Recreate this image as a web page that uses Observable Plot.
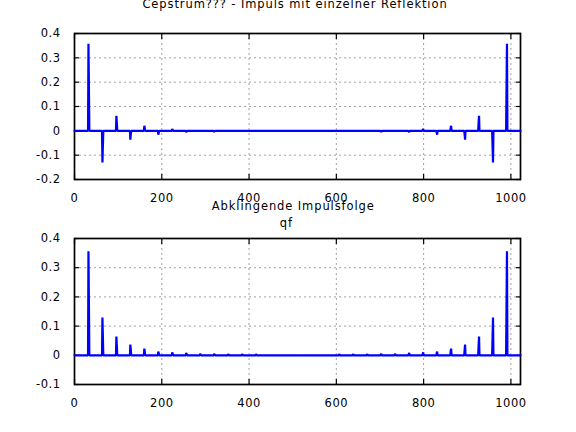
<!DOCTYPE html>
<html><head><meta charset="utf-8">
<script src="https://cdn.jsdelivr.net/npm/d3@7"></script>
<script src="https://cdn.jsdelivr.net/npm/@observablehq/plot@0.6"></script>
<style>
html,body{margin:0;padding:0;background:#fff;}
#chart{position:relative;width:576px;height:432px;overflow:hidden;}
#chart > svg{position:absolute;left:0;}
</style></head><body><div id="chart"></div>
<script>
// ---- tick labels / axes ----
const xTicks = [0, 200, 400, 600, 800, 1000];
const topYTicks = [-0.2, -0.1, 0, 0.1, 0.2, 0.3, 0.4];
const bottomYTicks = [-0.1, 0, 0.1, 0.2, 0.3, 0.4];
const sampleEnd = 1022;

// ---- titles ----
const titleTop = "Cepstrum??? - Impuls mit einzelner Reflektion";
const titleBottom = ["Abklingende Impulsfolge", "qf"];

// ---- top panel: cepstrum, impulse with single reflection ----
const topLeftLag  = [32, 64, 96, 128, 160, 192, 224, 256, 320];
const topLeftA    = [0.358, -0.130, 0.062, -0.036, 0.021, -0.016, 0.008, -0.006, -0.005];
const topLeftB    = [0.181, -0.065, 0.033, -0.015, 0.012, -0.008, 0.004, -0.003, -0.002];
const topRightLag = [991, 959, 927, 895, 863, 831, 799, 767, 703];
const topRightA   = [0.358, -0.130, 0.062, -0.036, 0.021, -0.016, 0.008, -0.006, -0.005];
const topRightB   = [0.181, -0.065, 0.033, -0.015, 0.012, -0.008, 0.004, -0.003, -0.002];

// ---- bottom panel: decaying impulse train ----
const botLeftLag  = [32, 64, 96, 128, 160, 192, 224, 256, 288, 320, 352, 384, 416];
const botLeftA    = [0.356, 0.129, 0.064, 0.037, 0.023, 0.013, 0.010, 0.008, 0.005, 0.005, 0.004, 0.004, 0.004];
const botLeftB    = [0.179, 0.064, 0.033, 0.019, 0.013, 0.007, 0.005, 0.004, 0.003, 0.003, 0.002, 0.002, 0.002];
const botRightLag = [991, 959, 927, 895, 863, 831, 799, 767, 735, 703, 671, 639, 607];
const botRightA   = [0.356, 0.129, 0.064, 0.037, 0.023, 0.013, 0.010, 0.008, 0.005, 0.005, 0.004, 0.004, 0.004];
const botRightB   = [0.179, 0.064, 0.033, 0.019, 0.013, 0.007, 0.005, 0.004, 0.003, 0.003, 0.002, 0.002, 0.002];

function buildSignal(lLag, lA, lB, rLag, rA, rB) {
  const pts = [{x: 0, y: 0}];
  lLag.forEach((n, i) => {
    pts.push({x: n - 1, y: 0}, {x: n, y: lA[i]}, {x: n + 1, y: lB[i]}, {x: n + 2, y: 0});
  });
  rLag.map((n, i) => ({n, a: rA[i], b: rB[i]}))
    .sort((p, q) => p.n - q.n)
    .forEach(({n, a, b}) => {
      pts.push({x: n - 2, y: 0}, {x: n - 1, y: b}, {x: n, y: a}, {x: n + 1, y: 0});
    });
  pts.push({x: sampleEnd, y: 0});
  return pts;
}

const fmtY = d => String(+d.toFixed(1));
const gridStyle = {stroke: "#a0a0a0", strokeOpacity: 1, strokeWidth: 1, strokeDasharray: "2,3"};

function panel(data, yTicks, height, marginTop, marginBottom) {
  return Plot.plot({
    width: 576, height, marginTop, marginBottom, marginLeft: 74, marginRight: 56,
    style: {fontFamily: '"DejaVu Sans"', fontSize: "11.5px", letterSpacing: "0.5px",
            background: "transparent", color: "#000", overflow: "visible"},
    x: {domain: [0, sampleEnd]},
    y: {domain: [yTicks[0], yTicks[yTicks.length - 1]]},
    marks: [
      Plot.gridX({ticks: xTicks, ...gridStyle}),
      Plot.gridY({ticks: yTicks, ...gridStyle}),
      Plot.frame({stroke: "#000", strokeWidth: 1.7}),
      Plot.axisX({ticks: xTicks, anchor: "bottom", tickSize: -5, tickFormat: () => "", label: null, strokeWidth: 1.2}),
      Plot.axisX({ticks: xTicks, anchor: "top", tickSize: -5, tickFormat: () => "", label: null, strokeWidth: 1.2}),
      Plot.axisX({ticks: xTicks, anchor: "bottom", tickSize: 0, tickPadding: 14, tickFormat: d => String(d), label: null}),
      Plot.axisY({ticks: yTicks, anchor: "left", tickSize: -5, tickFormat: () => "", label: null, strokeWidth: 1.2}),
      Plot.axisY({ticks: yTicks, anchor: "right", tickSize: -5, tickFormat: () => "", label: null, strokeWidth: 1.2}),
      Plot.axisY({ticks: yTicks, anchor: "left", tickSize: 0, tickPadding: 14, tickFormat: fmtY, label: null}),
      Plot.line(data, {x: "x", y: "y", stroke: "#0000ff", strokeWidth: 2.2, strokeLinejoin: "bevel"})
    ]
  });
}

const chart = document.getElementById("chart");
const topPlot = panel(buildSignal(topLeftLag, topLeftA, topLeftB, topRightLag, topRightA, topRightB), topYTicks, 216, 33, 37);
topPlot.style.top = "0px";
chart.appendChild(topPlot);
const botPlot = panel(buildSignal(botLeftLag, botLeftA, botLeftB, botRightLag, botRightA, botRightB), bottomYTicks, 216, 22, 48);
botPlot.style.top = "216px";
chart.appendChild(botPlot);

// titles overlay
const titles = [
  {text: titleTop, x: 295, y: 7.5},
  {text: titleBottom[0], x: 293.3, y: 210},
  {text: titleBottom[1], x: 286.3, y: 227.3}
];
const ov = d3.create("svg").attr("width", 576).attr("height", 432)
  .style("top", "0px").style("pointer-events", "none");
ov.selectAll("text").data(titles).join("text")
  .attr("x", d => d.x).attr("y", d => d.y)
  .attr("text-anchor", "middle")
  .attr("font-family", '"DejaVu Sans"').attr("font-size", "11.5px")
  .attr("letter-spacing", "0.9px").attr("fill", "#000")
  .text(d => d.text);
chart.appendChild(ov.node());
</script></body></html>
